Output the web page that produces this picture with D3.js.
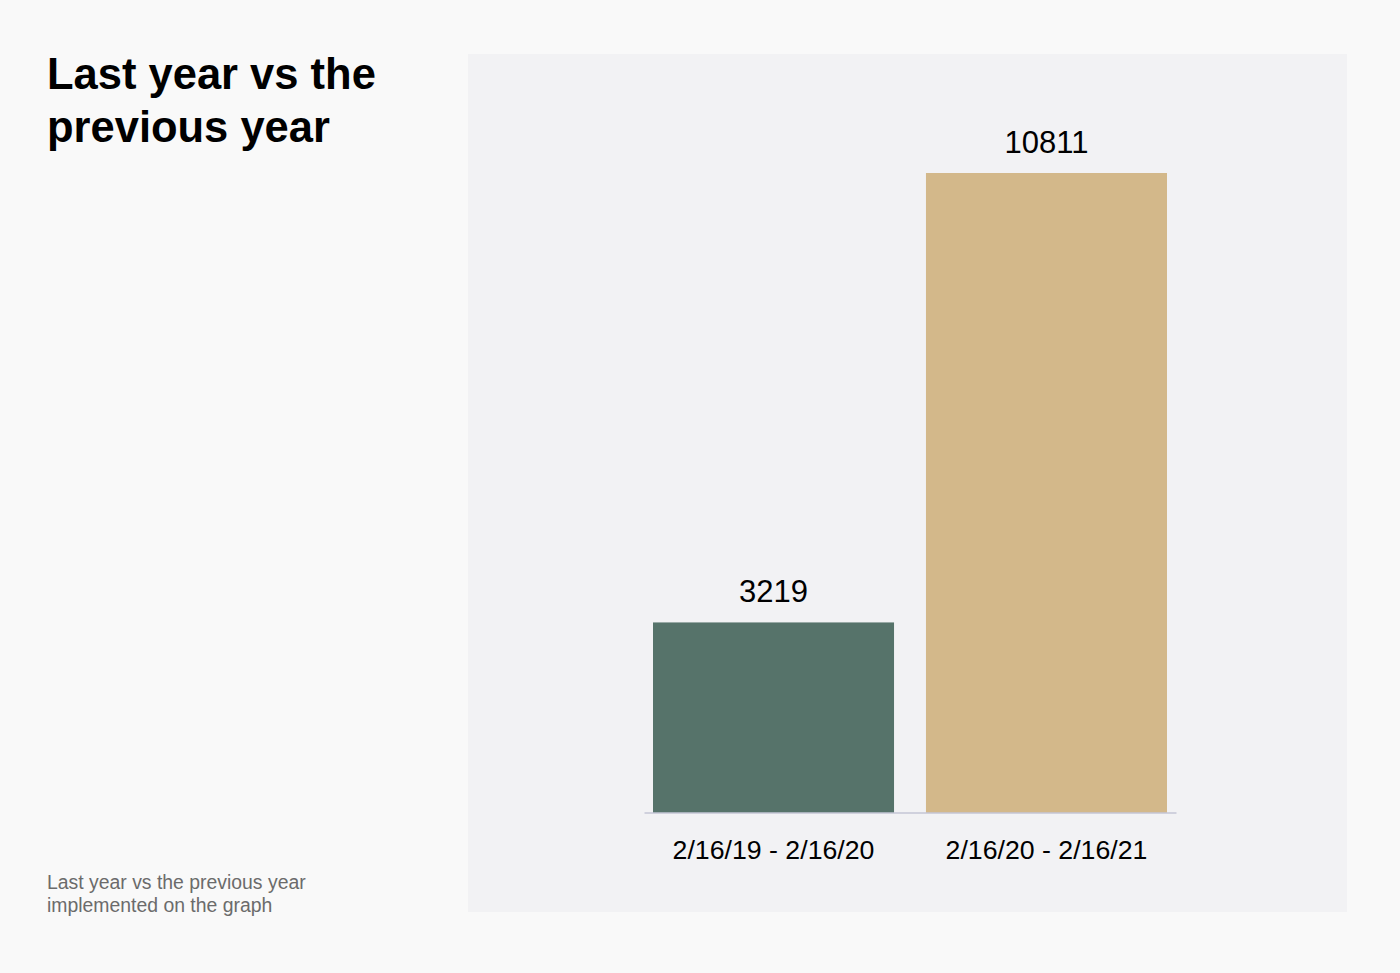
<!DOCTYPE html>
<html>
<head>
<meta charset="utf-8">
<script src="https://cdn.jsdelivr.net/npm/d3@7"></script>
<style>
  html, body { margin: 0; padding: 0; background: #f9f9f9; }
  svg { display: block; font-family: "Liberation Sans", Arial, Helvetica, sans-serif; }
</style>
</head>
<body>
<svg id="chart" width="1400" height="973"></svg>
<script>
const categories = ["2/16/19 - 2/16/20", "2/16/20 - 2/16/21"];
const values = [3219, 10811];
const barColors = ["#56736a", "#d3b88a"];
const titleLines = ["Last year vs the", "previous year"];
const noteLines = ["Last year vs the previous year", "implemented on the graph"];

const svg = d3.select("#chart");

// page background
svg.append("rect").attr("width", 1400).attr("height", 973).attr("fill", "#f9f9f9");

// panel
svg.append("rect")
  .attr("x", 468).attr("y", 54).attr("width", 879).attr("height", 858)
  .attr("fill", "#f2f2f4");

// title
svg.append("text")
  .attr("x", 47).attr("y", 89)
  .attr("font-size", 43.5).attr("font-weight", "bold").attr("fill", "#000")
  .selectAll("tspan").data(titleLines).join("tspan")
  .attr("x", 47).attr("dy", (d, i) => i === 0 ? 0 : 53)
  .text(d => d);

// footnote
svg.append("text")
  .attr("x", 47).attr("y", 889)
  .attr("font-size", 19.4).attr("fill", "#6b6b6b")
  .selectAll("tspan").data(noteLines).join("tspan")
  .attr("x", 47).attr("dy", (d, i) => i === 0 ? 0 : 23)
  .text(d => d);

const x = d3.scaleBand()
  .domain(categories)
  .range([644, 1176])
  .paddingInner(0.117)
  .paddingOuter(0.033);

const y = d3.scaleLinear()
  .domain([0, d3.max(values)])
  .range([813, 173]);

const data = categories.map((c, i) => ({ c, v: values[i], color: barColors[i] }));

svg.append("g").selectAll("rect").data(data).join("rect")
  .attr("x", d => x(d.c))
  .attr("y", d => y(d.v))
  .attr("width", x.bandwidth())
  .attr("height", d => y(0) - y(d.v))
  .attr("fill", d => d.color);

// value labels
svg.append("g").selectAll("text").data(data).join("text")
  .attr("x", d => x(d.c) + x.bandwidth() / 2)
  .attr("y", d => y(d.v) - 20)
  .attr("text-anchor", "middle")
  .attr("font-size", 31)
  .attr("fill", "#000")
  .text(d => d.v);

// x axis
const xAxis = d3.axisBottom(x).tickSize(0).tickPadding(28);
const gx = svg.append("g").attr("transform", "translate(0,812.5)").call(xAxis);
gx.select(".domain").attr("stroke", "#c5c6d6").attr("stroke-width", 1.5);
gx.selectAll(".tick text")
  .attr("font-size", 26.7)
  .attr("fill", "#000")
  .attr("font-family", "\"Liberation Sans\", Arial, Helvetica, sans-serif");
</script>
</body>
</html>
